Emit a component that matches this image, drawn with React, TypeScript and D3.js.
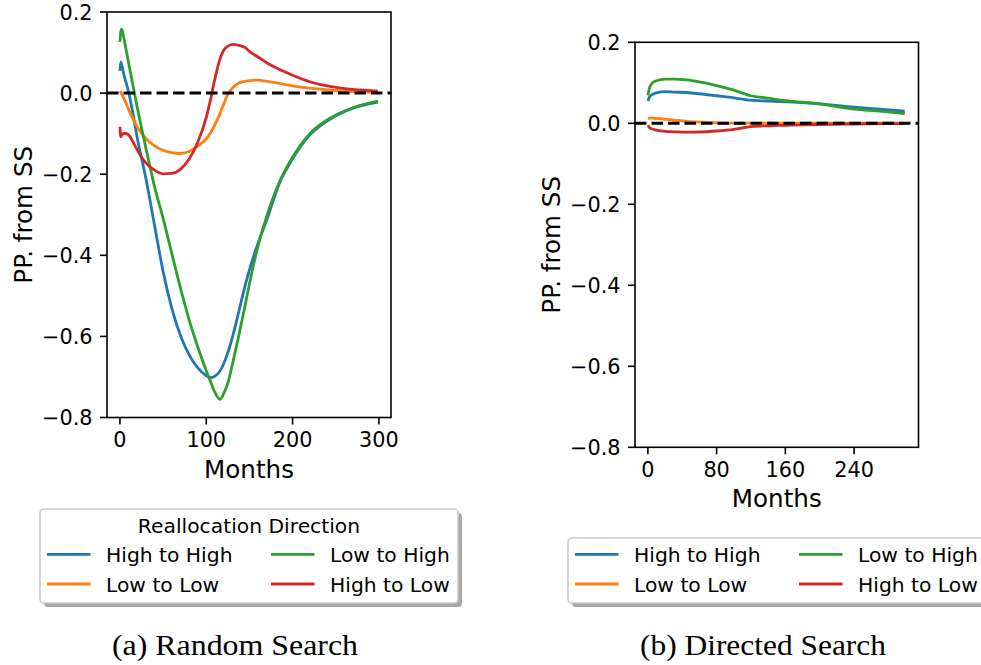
import React from 'react';
import * as d3 from 'd3';

const seriesNames = ['High to High', 'Low to Low', 'Low to High', 'High to Low'];
const seriesColors = ['#1f77b4', '#ff7f0e', '#2ca02c', '#d62728'];

// (a) Random Search
const randomMonths = [0, 1, 2, 5, 10, 15, 20, 30, 40, 50, 60, 70, 80, 90, 100, 105, 110, 116, 120, 125, 131, 137, 145, 150, 160, 170, 185, 200, 220, 245, 270, 299];
const randomHighHigh = [0.055, 0.077, 0.07, 0.042, 0.003, -0.05, -0.11, -0.21, -0.325, -0.44, -0.53, -0.597, -0.645, -0.677, -0.697, -0.702, -0.698, -0.685, -0.668, -0.64, -0.596, -0.545, -0.475, -0.436, -0.37, -0.313, -0.221, -0.162, -0.103, -0.062, -0.037, -0.022];
const randomLowLow = [0.005, 0.002, -0.002, -0.015, -0.04, -0.063, -0.083, -0.112, -0.13, -0.141, -0.147, -0.149, -0.144, -0.131, -0.113, -0.098, -0.078, -0.05, -0.028, -0.003, 0.014, 0.024, 0.029, 0.031, 0.032, 0.029, 0.024, 0.018, 0.012, 0.007, 0.004, 0.002];
const randomLowHigh = [0.126, 0.152, 0.158, 0.13, 0.075, 0.02, -0.035, -0.135, -0.23, -0.309, -0.395, -0.48, -0.558, -0.625, -0.685, -0.712, -0.738, -0.755, -0.742, -0.715, -0.662, -0.605, -0.524, -0.47, -0.377, -0.304, -0.218, -0.158, -0.1, -0.06, -0.036, -0.02];
const randomHighLow = [-0.083, -0.108, -0.104, -0.099, -0.103, -0.12, -0.14, -0.172, -0.19, -0.199, -0.198, -0.188, -0.163, -0.122, -0.06, -0.015, 0.035, 0.085, 0.105, 0.116, 0.12, 0.118, 0.112, 0.103, 0.089, 0.075, 0.058, 0.044, 0.028, 0.016, 0.009, 0.005];

// (b) Directed Search
const directedMonths = [0, 2, 5, 10, 20, 30, 45, 60, 80, 100, 120, 140, 160, 200, 240, 270, 299];
const directedHighHigh = [0.055, 0.065, 0.071, 0.075, 0.078, 0.077, 0.076, 0.073, 0.068, 0.063, 0.057, 0.055, 0.053, 0.048, 0.04, 0.035, 0.03];
const directedLowLow = [0.012, 0.013, 0.013, 0.012, 0.01, 0.008, 0.005, 0.003, 0.001, 0.0005, 0.0003, 0.0002, 0.0002, 0.0001, 0.0001, 0.0001, 0.0001];
const directedLowHigh = [0.069, 0.088, 0.099, 0.105, 0.109, 0.109, 0.107, 0.102, 0.093, 0.082, 0.068, 0.062, 0.056, 0.048, 0.035, 0.03, 0.024];
const directedHighLow = [-0.005, -0.011, -0.014, -0.017, -0.02, -0.021, -0.022, -0.0215, -0.019, -0.015, -0.008, -0.006, -0.005, -0.003, -0.002, -0.001, -0.001];

const yTicks = [0.2, 0, -0.2, -0.4, -0.6, -0.8];
const randomXTicks = [0, 100, 200, 300];
const directedXTicks = [0, 80, 160, 240];

const FONT = 'DejaVu Sans';
const fmtY = (v: number) => (v < 0 ? '\u2212' : '') + Math.abs(v).toFixed(1);

type PanelProps = {
  box: { x0: number; x1: number; y0: number; y1: number };
  xDomain: [number, number];
  xTicks: number[];
  months: number[];
  series: number[][];
  yLabelX: number;
  xLabelY: number;
};

function Panel({ box, xDomain, xTicks, months, series, yLabelX, xLabelY }: PanelProps) {
  const x = d3.scaleLinear().domain(xDomain).range([box.x0, box.x1]);
  const y = d3.scaleLinear().domain([-0.8, 0.2]).range([box.y1, box.y0]);
  const line = d3
    .line<number>()
    .x((_, i) => x(months[i]))
    .y((d) => y(d))
    .curve(d3.curveMonotoneX);
  const tickLen = 7;
  return (
    <g>
      {series.map((s, i) => (
        <path key={i} d={line(s) || ''} fill="none" stroke={seriesColors[i]} strokeWidth={2.8} strokeLinejoin="round" strokeLinecap="butt" />
      ))}
      <line x1={box.x0} x2={box.x1} y1={y(0)} y2={y(0)} stroke="#000" strokeWidth={3} strokeDasharray="11.5,5" />
      <rect x={box.x0} y={box.y0} width={box.x1 - box.x0} height={box.y1 - box.y0} fill="none" stroke="#000" strokeWidth={1.6} />
      {yTicks.map((t) => (
        <g key={'y' + t}>
          <line x1={box.x0 - tickLen} x2={box.x0} y1={y(t)} y2={y(t)} stroke="#000" strokeWidth={1.6} />
          <text x={box.x0 - tickLen - 7.5} y={y(t)} dy="0.365em" textAnchor="end" fontFamily={FONT} fontSize={20.8}>
            {fmtY(t)}
          </text>
        </g>
      ))}
      {xTicks.map((t) => (
        <g key={'x' + t}>
          <line x1={x(t)} x2={x(t)} y1={box.y1} y2={box.y1 + tickLen} stroke="#000" strokeWidth={1.6} />
          <text x={x(t)} y={box.y1 + tickLen + 7 + 15.2} textAnchor="middle" fontFamily={FONT} fontSize={20.8}>
            {t}
          </text>
        </g>
      ))}
      <text x={(box.x0 + box.x1) / 2} y={xLabelY} textAnchor="middle" fontFamily={FONT} fontSize={24.6}>
        Months
      </text>
      <text
        transform={`translate(${yLabelX},${(box.y0 + box.y1) / 2}) rotate(-90)`}
        textAnchor="middle"
        fontFamily={FONT}
        fontSize={24.6}
      >
        PP. from SS
      </text>
    </g>
  );
}

type LegendProps = {
  x: number;
  y: number;
  w: number;
  h: number;
  title?: string;
  rowYs: number[];
  col1: number;
  col2: number;
};

function Legend({ x, y, w, h, title, rowYs, col1, col2 }: LegendProps) {
  const handleLen = 43.5;
  const textGap = 15.5;
  const cols = [col1, col2];
  return (
    <g>
      <rect x={x + 4} y={y + 4} width={w} height={h} rx={4} fill="#a8a8a8" />
      <rect x={x} y={y} width={w} height={h} rx={4} fill="#fff" stroke="#cccccc" strokeWidth={1.6} />
      {title && (
        <text x={x + w / 2} y={y + 24.3} textAnchor="middle" fontFamily={FONT} fontSize={20.3}>
          {title}
        </text>
      )}
      {seriesNames.map((name, i) => {
        const col = Math.floor(i / 2);
        const row = i % 2;
        const cx = cols[col];
        const cy = rowYs[row];
        return (
          <g key={name}>
            <line x1={cx} x2={cx + handleLen} y1={cy} y2={cy} stroke={seriesColors[i]} strokeWidth={2.8} />
            <text x={cx + handleLen + textGap} y={cy} dy="0.38em" fontFamily={FONT} fontSize={20.3}>
              {name}
            </text>
          </g>
        );
      })}
    </g>
  );
}

export default function App() {
  const randomSeries = [randomHighHigh, randomLowLow, randomLowHigh, randomHighLow];
  const directedSeries = [directedHighHigh, directedLowLow, directedLowHigh, directedHighLow];
  return (
    <svg
      width={981}
      height={665}
      viewBox="0 0 981 665"
      style={{ position: 'absolute', left: 0, top: 0, background: '#fff' }}
    >
      <rect x={0} y={0} width={981} height={665} fill="#fff" />
      <Panel
        box={{ x0: 107, x1: 391, y0: 12, y1: 417.5 }}
        xDomain={[-15, 314]}
        xTicks={randomXTicks}
        months={randomMonths}
        series={randomSeries}
        yLabelX={32}
        xLabelY={478.3}
      />
      <Panel
        box={{ x0: 635, x1: 918.5, y0: 42.3, y1: 447.3 }}
        xDomain={[-15, 315]}
        xTicks={directedXTicks}
        months={directedMonths}
        series={directedSeries}
        yLabelX={560}
        xLabelY={507.3}
      />
      <Legend x={40} y={509} w={418} h={94} title="Reallocation Direction" rowYs={[554.3, 584]} col1={47} col2={271} />
      <Legend x={568} y={538} w={440} h={65} rowYs={[554.3, 584]} col1={575} col2={799} />
      <text x={235} y={655} textAnchor="middle" fontFamily="Liberation Serif" fontSize={29.5} textLength={246} lengthAdjust="spacingAndGlyphs">
        (a) Random Search
      </text>
      <text x={763} y={655} textAnchor="middle" fontFamily="Liberation Serif" fontSize={29.5} textLength={246} lengthAdjust="spacingAndGlyphs">
        (b) Directed Search
      </text>
    </svg>
  );
}
